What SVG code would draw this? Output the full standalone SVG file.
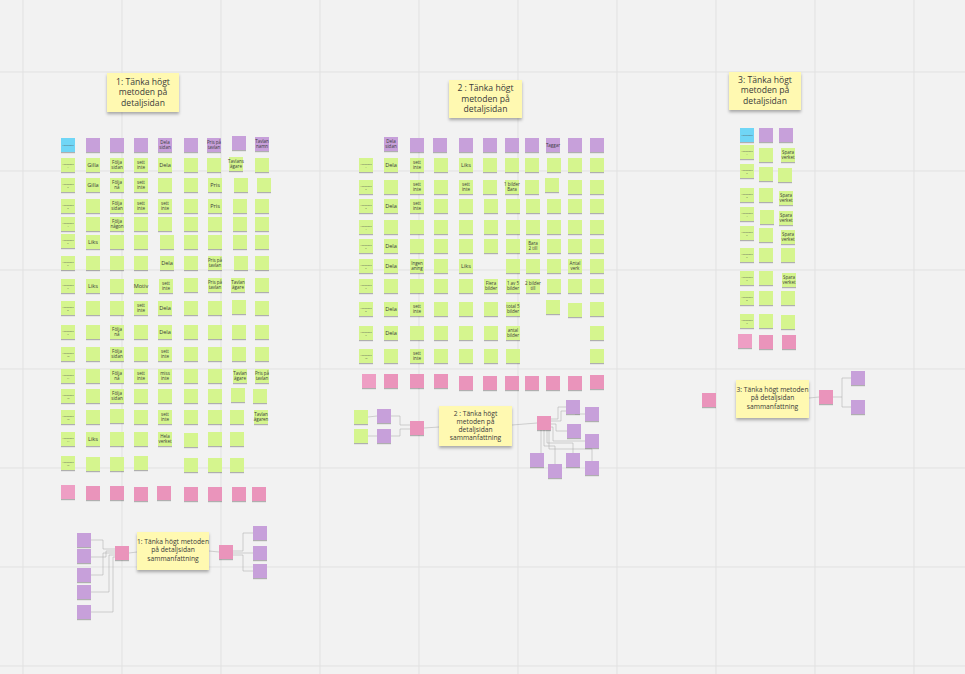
<svg xmlns="http://www.w3.org/2000/svg" width="965" height="674" viewBox="0 0 965 674">
<defs>
<filter id="sh" x="-30%" y="-30%" width="160%" height="180%"><feDropShadow dx="0" dy="1.2" stdDeviation="0.7" flood-color="#000" flood-opacity="0.28"/></filter>
<filter id="shb" x="-10%" y="-10%" width="120%" height="140%"><feDropShadow dx="0" dy="2.2" stdDeviation="1.4" flood-color="#000" flood-opacity="0.3"/></filter>
<style>
rect.g,rect.p,rect.c,rect.k,rect.k2{width:14px;height:14px;filter:url(#sh)}
.g{fill:#d5f58e}.p{fill:#c7a0da}.c{fill:#6fd6f6}.k{fill:#ea94bb}.k2{fill:#ee9ec4}
.y{fill:#fff9b1;filter:url(#shb)}
text{font-family:"Open Sans","Liberation Sans",sans-serif;fill:#3a3a3a;text-anchor:middle}
.w1{font-size:5.6px}.w2{font-size:4.5px}.u{font-size:2.3px;fill:#555}
.tt{font-size:8.6px}.ts{font-size:6.7px}
.grid line{stroke:#e1e1e1;stroke-width:1}
.cn{fill:none;stroke:#b3b3b3;stroke-width:0.6}
</style>
</defs>
<rect width="965" height="674" fill="#f2f2f2"/>
<g class="grid">
<line x1="23" y1="0" x2="23" y2="674"/><line x1="122" y1="0" x2="122" y2="674"/><line x1="221" y1="0" x2="221" y2="674"/><line x1="320" y1="0" x2="320" y2="674"/><line x1="419" y1="0" x2="419" y2="674"/><line x1="518" y1="0" x2="518" y2="674"/><line x1="617" y1="0" x2="617" y2="674"/><line x1="716" y1="0" x2="716" y2="674"/><line x1="815" y1="0" x2="815" y2="674"/><line x1="914" y1="0" x2="914" y2="674"/>
<line x1="0" y1="72" x2="965" y2="72"/><line x1="0" y1="171" x2="965" y2="171"/><line x1="0" y1="270" x2="965" y2="270"/><line x1="0" y1="369" x2="965" y2="369"/><line x1="0" y1="468" x2="965" y2="468"/><line x1="0" y1="567" x2="965" y2="567"/><line x1="0" y1="666" x2="965" y2="666"/>
</g>

<!-- connectors -->
<g id="connectors" class="cn">
<!-- session 1 summary -->
<polyline points="91,540 103,540 103,549 115,549"/>
<polyline points="91,557 106,557 106,551 115,551"/>
<polyline points="91,575 103,575 103,553 115,553"/>
<polyline points="91,592 109,592 109,555 115,555"/>
<polyline points="91,612 113,612 113,557 115,557"/>
<line x1="129" y1="553" x2="137" y2="552"/>
<line x1="209" y1="551" x2="219" y2="552"/>
<polyline points="233,551 243,551 243,533 253,533"/>
<polyline points="233,553 253,553"/>
<polyline points="233,555 243,555 243,571 253,571"/>
<!-- session 2 summary -->
<line x1="368" y1="417" x2="377" y2="416"/>
<line x1="368" y1="436" x2="377" y2="436"/>
<polyline points="391,416 400,416 400,425 410,425"/>
<polyline points="391,436 400,436 400,429 410,429"/>
<line x1="424" y1="428" x2="439" y2="427"/>
<line x1="512" y1="425" x2="537" y2="423"/>
<polyline points="551,419 558,419 558,407 566,407"/>
<polyline points="551,421 561,421 561,411 575,411 575,414 585,414"/>
<polyline points="551,424 556,424 556,431 567,431"/>
<polyline points="551,427 553,427 553,441 585,441"/>
<polyline points="541,430 541,453"/>
<polyline points="544,430 544,446 555,446 555,464"/>
<polyline points="547,430 547,443 573,443 573,453"/>
<polyline points="549,430 549,449 592,449 592,461"/>
<!-- session 3 summary -->
<line x1="809" y1="398" x2="819" y2="397"/>
<polyline points="833,397 842,397 842,378 851,378"/>
<polyline points="842,397 842,407 851,407"/>
</g>

<!-- ===== Session 1 ===== -->
<g id="title-1"><rect class="y" x="107" y="73" width="72" height="39"/><text class="tt" x="143" y="85">1: Tänka högt<tspan x="143" dy="10.4">metoden på</tspan><tspan x="143" dy="10.4">detaljsidan</tspan></text></g>

<g id="session-1">
<g id="A0-0"><rect class="c" x="61" y="138"/><text class="u" x="68" y="146">Användare</text></g>
<g id="A0-1"><rect class="p" x="86" y="138"/></g>
<g id="A0-2"><rect class="p" x="110" y="138"/></g>
<g id="A0-3"><rect class="p" x="134" y="138"/></g>
<g id="A0-4"><rect class="p" x="158" y="138"/><text class="w2" x="165" y="144.3">Dela<tspan x="165" dy="4.8">sidan</tspan></text></g>
<g id="A0-5"><rect class="p" x="184" y="138"/></g>
<g id="A0-6"><rect class="p" x="207" y="138"/><text class="w2" x="214" y="144.3">Pris på<tspan x="214" dy="4.8">tavlan</tspan></text></g>
<g id="A0-7"><rect class="p" x="232" y="136"/></g>
<g id="A0-8"><rect class="p" x="255" y="137"/><text class="w2" x="262" y="143.3">Tavlan<tspan x="262" dy="4.8">namn</tspan></text></g>

<g id="A1-0"><rect class="g" x="61" y="158"/><text class="u" x="68" y="164.5">Användare<tspan x="68" dy="3">1</tspan></text></g>
<g id="A1-1"><rect class="g" x="86" y="158"/><text class="w1" x="93" y="167">Gilla</text></g>
<g id="A1-2"><rect class="g" x="110" y="158"/><text class="w2" x="117" y="164.3">Följa<tspan x="117" dy="4.8">sidan</tspan></text></g>
<g id="A1-3"><rect class="g" x="134" y="158"/><text class="w2" x="141" y="164.3">sett<tspan x="141" dy="4.8">inte</tspan></text></g>
<g id="A1-4"><rect class="g" x="158" y="158"/><text class="w1" x="165" y="167">Dela</text></g>
<g id="A1-5"><rect class="g" x="184" y="158"/></g>
<g id="A1-6"><rect class="g" x="207" y="158"/></g>
<g id="A1-7"><rect class="g" x="229" y="157"/><text class="w2" x="236" y="163.3">Tavlans<tspan x="236" dy="4.8">ägare</tspan></text></g>
<g id="A1-8"><rect class="g" x="255" y="158"/></g>

<g id="A2-0"><rect class="g" x="61" y="178"/><text class="u" x="68" y="184.5">Användare<tspan x="68" dy="3">2</tspan></text></g>
<g id="A2-1"><rect class="g" x="86" y="178"/><text class="w1" x="93" y="187">Gilla</text></g>
<g id="A2-2"><rect class="g" x="110" y="178"/><text class="w2" x="117" y="184.3">Följa<tspan x="117" dy="4.8">nå</tspan></text></g>
<g id="A2-3"><rect class="g" x="134" y="178"/><text class="w2" x="141" y="184.3">sett<tspan x="141" dy="4.8">inte</tspan></text></g>
<g id="A2-4"><rect class="g" x="158" y="178"/></g>
<g id="A2-5"><rect class="g" x="184" y="178"/></g>
<g id="A2-6"><rect class="g" x="208" y="178"/><text class="w1" x="215" y="187">Pris</text></g>
<g id="A2-7"><rect class="g" x="234" y="178"/></g>
<g id="A2-8"><rect class="g" x="257" y="178"/></g>

<g id="A3-0"><rect class="g" x="61" y="199"/><text class="u" x="68" y="205.5">Användare<tspan x="68" dy="3">3</tspan></text></g>
<g id="A3-1"><rect class="g" x="86" y="199"/></g>
<g id="A3-2"><rect class="g" x="110" y="199"/><text class="w2" x="117" y="205.3">Följa<tspan x="117" dy="4.8">sidan</tspan></text></g>
<g id="A3-3"><rect class="g" x="134" y="199"/><text class="w2" x="141" y="205.3">sett<tspan x="141" dy="4.8">inte</tspan></text></g>
<g id="A3-4"><rect class="g" x="158" y="199"/><text class="w2" x="165" y="205.3">sett<tspan x="165" dy="4.8">inte</tspan></text></g>
<g id="A3-5"><rect class="g" x="184" y="199"/></g>
<g id="A3-6"><rect class="g" x="208" y="199"/><text class="w1" x="215" y="208">Pris</text></g>
<g id="A3-7"><rect class="g" x="233" y="199"/></g>
<g id="A3-8"><rect class="g" x="255" y="199"/></g>

<g id="A4-0"><rect class="g" x="61" y="217"/><text class="u" x="68" y="223.5">Användare<tspan x="68" dy="3">4</tspan></text></g>
<g id="A4-1"><rect class="g" x="86" y="217"/></g>
<g id="A4-2"><rect class="g" x="110" y="217"/><text class="w2" x="117" y="223.3">Följa<tspan x="117" dy="4.8">någon</tspan></text></g>
<g id="A4-3"><rect class="g" x="134" y="217"/></g>
<g id="A4-4"><rect class="g" x="158" y="217"/></g>
<g id="A4-5"><rect class="g" x="184" y="217"/></g>
<g id="A4-6"><rect class="g" x="208" y="217"/></g>
<g id="A4-7"><rect class="g" x="233" y="217"/></g>
<g id="A4-8"><rect class="g" x="255" y="217"/></g>

<g id="A5-0"><rect class="g" x="61" y="234"/><text class="u" x="68" y="240.5">Användare<tspan x="68" dy="3">5</tspan></text></g>
<g id="A5-1"><rect class="g" x="86" y="235"/><text class="w1" x="93" y="244">Liks</text></g>
<g id="A5-2"><rect class="g" x="110" y="235"/></g>
<g id="A5-3"><rect class="g" x="134" y="235"/></g>
<g id="A5-4"><rect class="g" x="160" y="235"/></g>
<g id="A5-5"><rect class="g" x="184" y="235"/></g>
<g id="A5-6"><rect class="g" x="208" y="235"/></g>
<g id="A5-7"><rect class="g" x="233" y="235"/></g>
<g id="A5-8"><rect class="g" x="255" y="235"/></g>

<g id="A6-0"><rect class="g" x="61" y="256"/><text class="u" x="68" y="262.5">Användare<tspan x="68" dy="3">6</tspan></text></g>
<g id="A6-1"><rect class="g" x="86" y="256"/></g>
<g id="A6-2"><rect class="g" x="110" y="256"/></g>
<g id="A6-3"><rect class="g" x="134" y="256"/></g>
<g id="A6-4"><rect class="g" x="160" y="256"/><text class="w1" x="167" y="265">Dela</text></g>
<g id="A6-5"><rect class="g" x="184" y="256"/></g>
<g id="A6-6"><rect class="g" x="208" y="256"/><text class="w2" x="215" y="262.3">Pris på<tspan x="215" dy="4.8">tavlan</tspan></text></g>
<g id="A6-7"><rect class="g" x="234" y="256"/></g>
<g id="A6-8"><rect class="g" x="255" y="256"/></g>

<g id="A7-0"><rect class="g" x="61" y="279"/><text class="u" x="68" y="285.5">Användare<tspan x="68" dy="3">7</tspan></text></g>
<g id="A7-1"><rect class="g" x="86" y="279"/><text class="w1" x="93" y="288">Liks</text></g>
<g id="A7-2"><rect class="g" x="110" y="279"/></g>
<g id="A7-3"><rect class="g" x="134" y="279"/><text class="w1" x="141" y="288">Motiv</text></g>
<g id="A7-4"><rect class="g" x="159" y="279"/><text class="w2" x="166" y="285.3">sett<tspan x="166" dy="4.8">inte</tspan></text></g>
<g id="A7-5"><rect class="g" x="184" y="278"/></g>
<g id="A7-6"><rect class="g" x="208" y="278"/><text class="w2" x="215" y="284.3">Pris på<tspan x="215" dy="4.8">tavlan</tspan></text></g>
<g id="A7-7"><rect class="g" x="231" y="278"/><text class="w2" x="238" y="284.3">Tavlan<tspan x="238" dy="4.8">ägare</tspan></text></g>
<g id="A7-8"><rect class="g" x="255" y="278"/></g>

<g id="A8-0"><rect class="g" x="61" y="301"/><text class="u" x="68" y="307.5">Användare<tspan x="68" dy="3">8</tspan></text></g>
<g id="A8-1"><rect class="g" x="86" y="301"/></g>
<g id="A8-2"><rect class="g" x="110" y="301"/></g>
<g id="A8-3"><rect class="g" x="134" y="301"/><text class="w2" x="141" y="307.3">sett<tspan x="141" dy="4.8">inte</tspan></text></g>
<g id="A8-4"><rect class="g" x="158" y="301"/><text class="w1" x="165" y="310">Dela</text></g>
<g id="A8-5"><rect class="g" x="184" y="301"/></g>
<g id="A8-6"><rect class="g" x="208" y="301"/></g>
<g id="A8-7"><rect class="g" x="232" y="300"/></g>
<g id="A8-8"><rect class="g" x="255" y="301"/></g>

<g id="A9-0"><rect class="g" x="61" y="325"/><text class="u" x="68" y="331.5">Användare<tspan x="68" dy="3">9</tspan></text></g>
<g id="A9-1"><rect class="g" x="86" y="325"/></g>
<g id="A9-2"><rect class="g" x="110" y="325"/><text class="w2" x="117" y="331.3">Följa<tspan x="117" dy="4.8">nå</tspan></text></g>
<g id="A9-3"><rect class="g" x="134" y="325"/></g>
<g id="A9-4"><rect class="g" x="158" y="325"/><text class="w1" x="165" y="334">Dela</text></g>
<g id="A9-5"><rect class="g" x="184" y="325"/></g>
<g id="A9-6"><rect class="g" x="208" y="325"/></g>
<g id="A9-7"><rect class="g" x="232" y="325"/></g>
<g id="A9-8"><rect class="g" x="255" y="325"/></g>

<g id="A10-0"><rect class="g" x="61" y="347"/><text class="u" x="68" y="353.5">Användare<tspan x="68" dy="3">10</tspan></text></g>
<g id="A10-1"><rect class="g" x="86" y="347"/></g>
<g id="A10-2"><rect class="g" x="110" y="347"/><text class="w2" x="117" y="353.3">Följa<tspan x="117" dy="4.8">sidan</tspan></text></g>
<g id="A10-3"><rect class="g" x="134" y="347"/></g>
<g id="A10-4"><rect class="g" x="158" y="347"/><text class="w2" x="165" y="353.3">sett<tspan x="165" dy="4.8">inte</tspan></text></g>
<g id="A10-5"><rect class="g" x="184" y="347"/></g>
<g id="A10-6"><rect class="g" x="208" y="347"/></g>
<g id="A10-7"><rect class="g" x="232" y="347"/></g>
<g id="A10-8"><rect class="g" x="255" y="347"/></g>

<g id="A11-0"><rect class="g" x="61" y="369"/><text class="u" x="68" y="375.5">Användare<tspan x="68" dy="3">11</tspan></text></g>
<g id="A11-1"><rect class="g" x="86" y="369"/></g>
<g id="A11-2"><rect class="g" x="110" y="369"/><text class="w2" x="117" y="375.3">Följa<tspan x="117" dy="4.8">nå</tspan></text></g>
<g id="A11-3"><rect class="g" x="134" y="369"/><text class="w2" x="141" y="375.3">sett<tspan x="141" dy="4.8">inte</tspan></text></g>
<g id="A11-4"><rect class="g" x="158" y="369"/><text class="w2" x="165" y="375.3">miss<tspan x="165" dy="4.8">inte</tspan></text></g>
<g id="A11-5"><rect class="g" x="184" y="369"/></g>
<g id="A11-6"><rect class="g" x="208" y="369"/></g>
<g id="A11-7"><rect class="g" x="233" y="369"/><text class="w2" x="240" y="375.3">Tavlan<tspan x="240" dy="4.8">ägare</tspan></text></g>
<g id="A11-8"><rect class="g" x="255" y="369"/><text class="w2" x="262" y="375.3">Pris på<tspan x="262" dy="4.8">tavlan</tspan></text></g>

<g id="A12-0"><rect class="g" x="61" y="389"/><text class="u" x="68" y="395.5">Användare<tspan x="68" dy="3">12</tspan></text></g>
<g id="A12-1"><rect class="g" x="86" y="389"/></g>
<g id="A12-2"><rect class="g" x="110" y="389"/><text class="w2" x="117" y="395.3">Följa<tspan x="117" dy="4.8">sidan</tspan></text></g>
<g id="A12-3"><rect class="g" x="134" y="389"/></g>
<g id="A12-4"><rect class="g" x="158" y="389"/></g>
<g id="A12-5"><rect class="g" x="184" y="389"/></g>
<g id="A12-6"><rect class="g" x="208" y="389"/></g>
<g id="A12-7"><rect class="g" x="231" y="388"/></g>
<g id="A12-8"><rect class="g" x="253" y="389"/></g>

<g id="A13-0"><rect class="g" x="61" y="410"/><text class="u" x="68" y="416.5">Användare<tspan x="68" dy="3">13</tspan></text></g>
<g id="A13-1"><rect class="g" x="86" y="410"/></g>
<g id="A13-2"><rect class="g" x="110" y="409"/></g>
<g id="A13-3"><rect class="g" x="134" y="410"/></g>
<g id="A13-4"><rect class="g" x="158" y="410"/><text class="w2" x="165" y="416.3">sett<tspan x="165" dy="4.8">inte</tspan></text></g>
<g id="A13-5"><rect class="g" x="184" y="410"/></g>
<g id="A13-6"><rect class="g" x="208" y="410"/></g>
<g id="A13-7"><rect class="g" x="230" y="410"/></g>
<g id="A13-8"><rect class="g" x="254" y="410"/><text class="w2" x="261" y="416.3">Tavlan<tspan x="261" dy="4.8">ägaren</tspan></text></g>

<g id="A14-0"><rect class="g" x="61" y="432"/><text class="u" x="68" y="438.5">Användare<tspan x="68" dy="3">14</tspan></text></g>
<g id="A14-1"><rect class="g" x="86" y="432"/><text class="w1" x="93" y="441">Liks</text></g>
<g id="A14-2"><rect class="g" x="110" y="432"/></g>
<g id="A14-3"><rect class="g" x="134" y="432"/></g>
<g id="A14-4"><rect class="g" x="158" y="432"/><text class="w2" x="165" y="438.3">Hela<tspan x="165" dy="4.8">verket</tspan></text></g>
<g id="A14-5"><rect class="g" x="184" y="433"/></g>
<g id="A14-6"><rect class="g" x="208" y="432"/></g>
<g id="A14-7"><rect class="g" x="230" y="432"/></g>

<g id="A15-0"><rect class="g" x="61" y="456"/><text class="u" x="68" y="462.5">Användare<tspan x="68" dy="3">15</tspan></text></g>
<g id="A15-1"><rect class="g" x="86" y="457"/></g>
<g id="A15-2"><rect class="g" x="110" y="457"/></g>
<g id="A15-3"><rect class="g" x="134" y="456"/></g>
<g id="A15-5"><rect class="g" x="184" y="458"/></g>
<g id="A15-6"><rect class="g" x="208" y="458"/></g>
<g id="A15-7"><rect class="g" x="230" y="458"/></g>

<g id="A16-0"><rect class="k2" x="61" y="485"/></g>
<g id="A16-1"><rect class="k" x="86" y="486"/></g>
<g id="A16-2"><rect class="k" x="110" y="486"/></g>
<g id="A16-3"><rect class="k" x="134" y="487"/></g>
<g id="A16-4"><rect class="k" x="157" y="486"/></g>
<g id="A16-5"><rect class="k" x="184" y="487"/></g>
<g id="A16-6"><rect class="k" x="208" y="487"/></g>
<g id="A16-7"><rect class="k" x="232" y="487"/></g>
<g id="A16-8"><rect class="k" x="252" y="487"/></g>
</g>

<g id="summary-1">
<g id="S1-in1"><rect class="p" x="77" y="533"/></g>
<g id="S1-in2"><rect class="p" x="77" y="549"/></g>
<g id="S1-in3"><rect class="p" x="77" y="568"/></g>
<g id="S1-in4"><rect class="p" x="77" y="585"/></g>
<g id="S1-in5"><rect class="p" x="77" y="605"/></g>
<g id="S1-hub1"><rect class="k" x="115" y="546"/></g>
<g id="S1-title"><rect class="y" x="137" y="532" width="72" height="38"/><text class="ts" x="173" y="544">1: Tänka högt metoden<tspan x="173" dy="8.4">på detaljsidan</tspan><tspan x="173" dy="8.4">sammanfattning</tspan></text></g>
<g id="S1-hub2"><rect class="k" x="219" y="545"/></g>
<g id="S1-out1"><rect class="p" x="253" y="526"/></g>
<g id="S1-out2"><rect class="p" x="253" y="546"/></g>
<g id="S1-out3"><rect class="p" x="253" y="564"/></g>
</g>

<!-- ===== Session 2 ===== -->
<g id="title-2"><rect class="y" x="449" y="80" width="73" height="38"/><text class="tt" x="485.5" y="91">2 : Tänka högt<tspan x="485.5" dy="10.6">metoden på</tspan><tspan x="485.5" dy="10.6">detaljsidan</tspan></text></g>

<g id="session-2">
<g id="B0-1"><rect class="p" x="384" y="137"/><text class="w2" x="391" y="143.3">Dela<tspan x="391" dy="4.8">sidan</tspan></text></g>
<g id="B0-2"><rect class="p" x="410" y="138"/></g>
<g id="B0-3"><rect class="p" x="433" y="138"/></g>
<g id="B0-4"><rect class="p" x="459" y="138"/></g>
<g id="B0-5"><rect class="p" x="483" y="138"/></g>
<g id="B0-6"><rect class="p" x="505" y="138"/></g>
<g id="B0-7"><rect class="p" x="525" y="138"/></g>
<g id="B0-8"><rect class="p" x="546" y="138"/><text class="w2" x="553" y="146.5">Taggar</text></g>
<g id="B0-9"><rect class="p" x="568" y="138"/></g>
<g id="B0-10"><rect class="p" x="590" y="138"/></g>

<g id="B1-0"><rect class="g" x="359" y="158"/><text class="u" x="366" y="164.5">Användare<tspan x="366" dy="3">1</tspan></text></g>
<g id="B1-1"><rect class="g" x="384" y="158"/><text class="w1" x="391" y="167">Dela</text></g>
<g id="B1-2"><rect class="g" x="410" y="158"/><text class="w2" x="417" y="164.3">sett<tspan x="417" dy="4.8">inte</tspan></text></g>
<g id="B1-3"><rect class="g" x="434" y="158"/></g>
<g id="B1-4"><rect class="g" x="459" y="158"/><text class="w1" x="466" y="167">Liks</text></g>
<g id="B1-5"><rect class="g" x="483" y="158"/></g>
<g id="B1-6"><rect class="g" x="505" y="158"/></g>
<g id="B1-7"><rect class="g" x="525" y="158"/></g>
<g id="B1-8"><rect class="g" x="547" y="158"/></g>
<g id="B1-9"><rect class="g" x="568" y="158"/></g>
<g id="B1-10"><rect class="g" x="590" y="158"/></g>

<g id="B2-0"><rect class="g" x="359" y="180"/><text class="u" x="366" y="186.5">Användare<tspan x="366" dy="3">2</tspan></text></g>
<g id="B2-1"><rect class="g" x="384" y="180"/></g>
<g id="B2-2"><rect class="g" x="410" y="180"/><text class="w2" x="417" y="186.3">sett<tspan x="417" dy="4.8">inte</tspan></text></g>
<g id="B2-3"><rect class="g" x="434" y="180"/></g>
<g id="B2-4"><rect class="g" x="459" y="180"/><text class="w2" x="466" y="186.3">sett<tspan x="466" dy="4.8">inte</tspan></text></g>
<g id="B2-5"><rect class="g" x="483" y="180"/></g>
<g id="B2-6"><rect class="g" x="505" y="180"/><text class="w2" x="512" y="186.3">1 bilder<tspan x="512" dy="4.8">Bara</tspan></text></g>
<g id="B2-7"><rect class="g" x="525" y="180"/></g>
<g id="B2-8"><rect class="g" x="545" y="178"/></g>
<g id="B2-9"><rect class="g" x="568" y="180"/></g>
<g id="B2-10"><rect class="g" x="590" y="180"/></g>

<g id="B3-0"><rect class="g" x="359" y="199"/><text class="u" x="366" y="205.5">Användare<tspan x="366" dy="3">3</tspan></text></g>
<g id="B3-1"><rect class="g" x="384" y="199"/><text class="w1" x="391" y="208">Dela</text></g>
<g id="B3-2"><rect class="g" x="410" y="199"/><text class="w2" x="417" y="205.3">sett<tspan x="417" dy="4.8">inte</tspan></text></g>
<g id="B3-3"><rect class="g" x="434" y="199"/></g>
<g id="B3-4"><rect class="g" x="459" y="199"/></g>
<g id="B3-5"><rect class="g" x="484" y="199"/></g>
<g id="B3-6"><rect class="g" x="506" y="199"/></g>
<g id="B3-7"><rect class="g" x="526" y="199"/></g>
<g id="B3-8"><rect class="g" x="547" y="199"/></g>
<g id="B3-9"><rect class="g" x="568" y="199"/></g>
<g id="B3-10"><rect class="g" x="590" y="199"/></g>

<g id="B4-0"><rect class="g" x="359" y="220"/><text class="u" x="366" y="226.5">Användare<tspan x="366" dy="3">4</tspan></text></g>
<g id="B4-1"><rect class="g" x="384" y="220"/></g>
<g id="B4-2"><rect class="g" x="410" y="220"/></g>
<g id="B4-3"><rect class="g" x="434" y="220"/></g>
<g id="B4-4"><rect class="g" x="459" y="220"/></g>
<g id="B4-5"><rect class="g" x="484" y="220"/></g>
<g id="B4-6"><rect class="g" x="506" y="220"/></g>
<g id="B4-7"><rect class="g" x="526" y="220"/></g>
<g id="B4-8"><rect class="g" x="547" y="220"/></g>
<g id="B4-9"><rect class="g" x="568" y="220"/></g>
<g id="B4-10"><rect class="g" x="590" y="220"/></g>

<g id="B5-0"><rect class="g" x="359" y="239"/><text class="u" x="366" y="245.5">Användare<tspan x="366" dy="3">5</tspan></text></g>
<g id="B5-1"><rect class="g" x="384" y="239"/><text class="w1" x="391" y="248">Dela</text></g>
<g id="B5-2"><rect class="g" x="410" y="239"/></g>
<g id="B5-3"><rect class="g" x="434" y="239"/></g>
<g id="B5-4"><rect class="g" x="459" y="239"/></g>
<g id="B5-5"><rect class="g" x="484" y="239"/></g>
<g id="B5-6"><rect class="g" x="506" y="239"/></g>
<g id="B5-7"><rect class="g" x="526" y="239"/><text class="w2" x="533" y="245.3">Bara<tspan x="533" dy="4.8">2 till</tspan></text></g>
<g id="B5-8"><rect class="g" x="547" y="239"/></g>
<g id="B5-9"><rect class="g" x="568" y="239"/></g>
<g id="B5-10"><rect class="g" x="590" y="239"/></g>

<g id="B6-0"><rect class="g" x="359" y="259"/><text class="u" x="366" y="265.5">Användare<tspan x="366" dy="3">6</tspan></text></g>
<g id="B6-1"><rect class="g" x="384" y="259"/><text class="w1" x="391" y="268">Dela</text></g>
<g id="B6-2"><rect class="g" x="410" y="259"/><text class="w2" x="417" y="265.3">Ingen<tspan x="417" dy="4.8">aning</tspan></text></g>
<g id="B6-3"><rect class="g" x="434" y="259"/></g>
<g id="B6-4"><rect class="g" x="459" y="259"/><text class="w1" x="466" y="268">Liks</text></g>
<g id="B6-6"><rect class="g" x="506" y="259"/></g>
<g id="B6-7"><rect class="g" x="526" y="259"/></g>
<g id="B6-8"><rect class="g" x="547" y="259"/></g>
<g id="B6-9"><rect class="g" x="568" y="259"/><text class="w2" x="575" y="265.3">Antal<tspan x="575" dy="4.8">verk</tspan></text></g>
<g id="B6-10"><rect class="g" x="590" y="259"/></g>

<g id="B7-0"><rect class="g" x="359" y="279"/><text class="u" x="366" y="285.5">Användare<tspan x="366" dy="3">7</tspan></text></g>
<g id="B7-1"><rect class="g" x="384" y="279"/></g>
<g id="B7-2"><rect class="g" x="410" y="279"/></g>
<g id="B7-3"><rect class="g" x="434" y="279"/></g>
<g id="B7-4"><rect class="g" x="459" y="279"/></g>
<g id="B7-5"><rect class="g" x="484" y="279"/><text class="w2" x="491" y="285.3">Flera<tspan x="491" dy="4.8">bilder</tspan></text></g>
<g id="B7-6"><rect class="g" x="506" y="279"/><text class="w2" x="513" y="285.3">1 av 5<tspan x="513" dy="4.8">bilder</tspan></text></g>
<g id="B7-7"><rect class="g" x="526" y="279"/><text class="w2" x="533" y="285.3">2 bilder<tspan x="533" dy="4.8">till</tspan></text></g>
<g id="B7-8"><rect class="g" x="547" y="279"/></g>
<g id="B7-9"><rect class="g" x="568" y="279"/></g>
<g id="B7-10"><rect class="g" x="590" y="279"/></g>

<g id="B8-0"><rect class="g" x="359" y="302"/><text class="u" x="366" y="308.5">Användare<tspan x="366" dy="3">8</tspan></text></g>
<g id="B8-1"><rect class="g" x="384" y="302"/><text class="w1" x="391" y="311">Dela</text></g>
<g id="B8-2"><rect class="g" x="410" y="302"/><text class="w2" x="417" y="308.3">sett<tspan x="417" dy="4.8">inte</tspan></text></g>
<g id="B8-3"><rect class="g" x="434" y="302"/></g>
<g id="B8-4"><rect class="g" x="459" y="302"/></g>
<g id="B8-5"><rect class="g" x="484" y="302"/></g>
<g id="B8-6"><rect class="g" x="506" y="302"/><text class="w2" x="513" y="308.3">total 5<tspan x="513" dy="4.8">bilder</tspan></text></g>
<g id="B8-8"><rect class="g" x="546" y="300"/></g>
<g id="B8-9"><rect class="g" x="568" y="303"/></g>
<g id="B8-10"><rect class="g" x="590" y="302"/></g>

<g id="B9-0"><rect class="g" x="359" y="326"/><text class="u" x="366" y="332.5">Användare<tspan x="366" dy="3">9</tspan></text></g>
<g id="B9-1"><rect class="g" x="384" y="326"/><text class="w1" x="391" y="335">Dela</text></g>
<g id="B9-2"><rect class="g" x="410" y="326"/></g>
<g id="B9-3"><rect class="g" x="434" y="326"/></g>
<g id="B9-4"><rect class="g" x="459" y="326"/></g>
<g id="B9-5"><rect class="g" x="484" y="326"/></g>
<g id="B9-6"><rect class="g" x="506" y="326"/><text class="w2" x="513" y="332.3">antal<tspan x="513" dy="4.8">bilder</tspan></text></g>
<g id="B9-10"><rect class="g" x="590" y="326"/></g>

<g id="B10-0"><rect class="g" x="359" y="349"/><text class="u" x="366" y="355.5">Användare<tspan x="366" dy="3">10</tspan></text></g>
<g id="B10-1"><rect class="g" x="384" y="349"/></g>
<g id="B10-2"><rect class="g" x="410" y="349"/><text class="w2" x="417" y="355.3">sett<tspan x="417" dy="4.8">inte</tspan></text></g>
<g id="B10-3"><rect class="g" x="434" y="349"/></g>
<g id="B10-4"><rect class="g" x="459" y="349"/></g>
<g id="B10-5"><rect class="g" x="484" y="349"/></g>
<g id="B10-6"><rect class="g" x="506" y="349"/></g>
<g id="B10-10"><rect class="g" x="590" y="349"/></g>

<g id="B11-0"><rect class="k2" x="362" y="374"/></g>
<g id="B11-1"><rect class="k" x="384" y="374"/></g>
<g id="B11-2"><rect class="k" x="410" y="374"/></g>
<g id="B11-3"><rect class="k" x="434" y="374"/></g>
<g id="B11-4"><rect class="k" x="459" y="376"/></g>
<g id="B11-5"><rect class="k" x="483" y="376"/></g>
<g id="B11-6"><rect class="k" x="505" y="376"/></g>
<g id="B11-7"><rect class="k" x="525" y="376"/></g>
<g id="B11-8"><rect class="k" x="546" y="376"/></g>
<g id="B11-9"><rect class="k" x="568" y="376"/></g>
<g id="B11-10"><rect class="k" x="590" y="375"/></g>
</g>

<g id="summary-2">
<g id="S2-g1"><rect class="g" x="354" y="410"/></g>
<g id="S2-g2"><rect class="g" x="354" y="429"/></g>
<g id="S2-in1"><rect class="p" x="377" y="409"/></g>
<g id="S2-in2"><rect class="p" x="377" y="429"/></g>
<g id="S2-hub1"><rect class="k" x="410" y="421"/></g>
<g id="S2-title"><rect class="y" x="439" y="406" width="73" height="40"/><text class="ts" x="475.5" y="415.5">2 : Tänka högt<tspan x="475.5" dy="8.3">metoden på</tspan><tspan x="475.5" dy="8.3">detaljsidan</tspan><tspan x="475.5" dy="8.3">sammanfattning</tspan></text></g>
<g id="S2-hub2"><rect class="k" x="537" y="416"/></g>
<g id="S2-o1"><rect class="p" x="566" y="400"/></g>
<g id="S2-o2"><rect class="p" x="585" y="407"/></g>
<g id="S2-o3"><rect class="p" x="567" y="424"/></g>
<g id="S2-o4"><rect class="p" x="585" y="434"/></g>
<g id="S2-o5"><rect class="p" x="530" y="453"/></g>
<g id="S2-o6"><rect class="p" x="548" y="464"/></g>
<g id="S2-o7"><rect class="p" x="566" y="453"/></g>
<g id="S2-o8"><rect class="p" x="585" y="461"/></g>
</g>

<!-- ===== Session 3 ===== -->
<g id="title-3"><rect class="y" x="729" y="72" width="72" height="38"/><text class="tt" x="765" y="83">3: Tänka högt<tspan x="765" dy="10.4">metoden på</tspan><tspan x="765" dy="10.4">detaljsidan</tspan></text></g>

<g id="session-3">
<g id="C0-0"><rect class="c" x="740" y="128"/><text class="u" x="747" y="136">Användare</text></g>
<g id="C0-1"><rect class="p" x="759" y="128"/></g>
<g id="C0-2"><rect class="p" x="779" y="128"/></g>
<g id="C1-0"><rect class="g" x="740" y="145"/><text class="u" x="747" y="151.5">Användare<tspan x="747" dy="3">1</tspan></text></g>
<g id="C1-1"><rect class="g" x="759" y="148"/></g>
<g id="C1-2"><rect class="g" x="781" y="148"/><text class="w2" x="788" y="154.3">Spara<tspan x="788" dy="4.8">verket</tspan></text></g>
<g id="C2-0"><rect class="g" x="740" y="164"/><text class="u" x="747" y="170.5">Användare<tspan x="747" dy="3">2</tspan></text></g>
<g id="C2-1"><rect class="g" x="759" y="167"/></g>
<g id="C2-2"><rect class="g" x="778" y="168"/></g>
<g id="C3-0"><rect class="g" x="740" y="188"/><text class="u" x="747" y="194.5">Användare<tspan x="747" dy="3">3</tspan></text></g>
<g id="C3-1"><rect class="g" x="759" y="188"/></g>
<g id="C3-2"><rect class="g" x="779" y="191"/><text class="w2" x="786" y="197.3">Spara<tspan x="786" dy="4.8">verket</tspan></text></g>
<g id="C4-0"><rect class="g" x="740" y="207"/><text class="u" x="747" y="213.5">Användare<tspan x="747" dy="3">4</tspan></text></g>
<g id="C4-1"><rect class="g" x="760" y="210"/></g>
<g id="C4-2"><rect class="g" x="779" y="211"/><text class="w2" x="786" y="217.3">Spara<tspan x="786" dy="4.8">verket</tspan></text></g>
<g id="C5-0"><rect class="g" x="740" y="226"/><text class="u" x="747" y="232.5">Användare<tspan x="747" dy="3">5</tspan></text></g>
<g id="C5-1"><rect class="g" x="759" y="228"/></g>
<g id="C5-2"><rect class="g" x="781" y="230"/><text class="w2" x="788" y="236.3">Spara<tspan x="788" dy="4.8">verket</tspan></text></g>
<g id="C6-0"><rect class="g" x="740" y="248"/><text class="u" x="747" y="254.5">Användare<tspan x="747" dy="3">6</tspan></text></g>
<g id="C6-1"><rect class="g" x="759" y="248"/></g>
<g id="C6-2"><rect class="g" x="781" y="248"/></g>
<g id="C7-0"><rect class="g" x="740" y="271"/><text class="u" x="747" y="277.5">Användare<tspan x="747" dy="3">7</tspan></text></g>
<g id="C7-1"><rect class="g" x="759" y="271"/></g>
<g id="C7-2"><rect class="g" x="782" y="273"/><text class="w2" x="789" y="279.3">Spara<tspan x="789" dy="4.8">verket</tspan></text></g>
<g id="C8-0"><rect class="g" x="740" y="291"/><text class="u" x="747" y="297.5">Användare<tspan x="747" dy="3">8</tspan></text></g>
<g id="C8-1"><rect class="g" x="759" y="291"/></g>
<g id="C8-2"><rect class="g" x="781" y="291"/></g>
<g id="C9-0"><rect class="g" x="740" y="314"/><text class="u" x="747" y="320.5">Användare<tspan x="747" dy="3">9</tspan></text></g>
<g id="C9-1"><rect class="g" x="759" y="314"/></g>
<g id="C9-2"><rect class="g" x="781" y="315"/></g>
<g id="C10-0"><rect class="k2" x="738" y="334"/></g>
<g id="C10-1"><rect class="k" x="759" y="335"/></g>
<g id="C10-2"><rect class="k" x="782" y="335"/></g>
</g>

<g id="summary-3">
<g id="S3-side"><rect class="k" x="702" y="393"/></g>
<g id="S3-title"><rect class="y" x="736" y="380" width="73" height="38"/><text class="ts" x="772.5" y="392">3: Tänka högt metoden<tspan x="772.5" dy="8.4">på detaljsidan</tspan><tspan x="772.5" dy="8.4">sammanfattning</tspan></text></g>
<g id="S3-hub"><rect class="k" x="819" y="390"/></g>
<g id="S3-o1"><rect class="p" x="851" y="371"/></g>
<g id="S3-o2"><rect class="p" x="851" y="400"/></g>
</g>
</svg>
